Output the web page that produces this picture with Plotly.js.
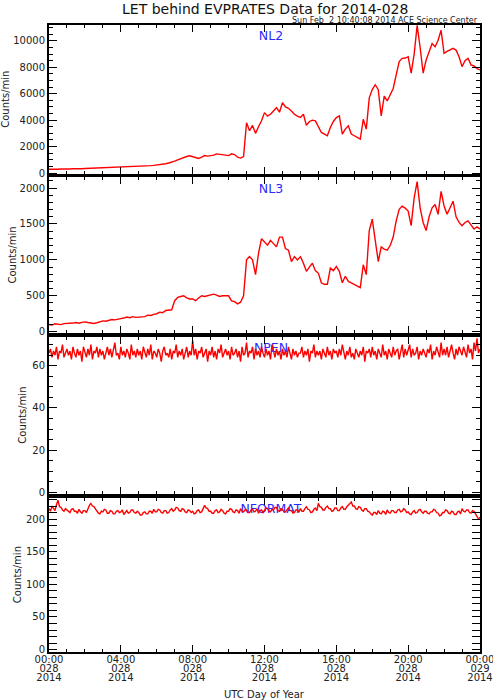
<!DOCTYPE html>
<html>
<head>
<meta charset="utf-8">
<script src="https://cdn.plot.ly/plotly-3.0.1.min.js"></script>
<style>html,body{margin:0;padding:0;background:#fff;}#chart{width:493px;height:700px;}</style>
</head>
<body>
<div id="chart"></div>
<script>
// NL2 / NL3: 10-minute samples; NPEN / NFORMAT: 5-minute samples; 00:00 day 028 -> 00:00 day 029
var nl2 = [
 280,270,290,280,300,290,
 310,300,320,310,330,320,
 340,350,330,360,370,360,
 380,390,400,390,410,420,
 430,440,430,460,470,460,
 500,510,530,540,560,580,
 600,620,650,700,760,820,
 900,1000,1100,1150,1250,1300,
 1220,1150,1100,1200,1320,1280,
 1300,1350,1450,1400,1380,1350,
 1320,1450,1400,1200,1130,1250,
 3800,3200,3600,3000,3500,3950,
 4570,4300,4450,4700,4940,4600,
 5320,5000,4900,4700,4450,4300,
 4200,4450,3600,3900,4000,3950,
 3500,3070,2950,2820,3450,3900,
 4200,4320,2950,3320,3570,2950,
 2820,2700,2570,4070,3320,5690,
 6310,6680,6310,4320,5820,5450,
 5900,6400,7430,8430,8680,8700,
 8800,7560,9000,11170,9500,7560,
 8550,9200,9800,9550,10050,10800,
 9050,9200,9300,9430,9300,8800,
 8050,8500,8680,8180,8100,7900,
 7800];

var nl3 = [
 100,92,110,104,98,112,
 114,108,120,128,118,130,
 136,128,120,114,125,140,
 150,145,160,170,165,178,
 182,190,204,195,210,200,
 204,215,210,230,225,241,
 250,272,265,295,300,305,
 432,477,490,500,470,455,
 455,432,470,500,490,500,
 505,523,510,490,500,495,
 500,430,418,387,410,500,
 1000,1045,1000,795,1090,1294,
 1250,1204,1272,1230,1181,1317,
 1317,1158,1135,977,1045,1000,
 1045,954,840,900,954,850,
 813,681,660,660,885,850,
 908,840,681,772,700,681,
 660,640,613,931,795,1408,
 1566,1272,977,1181,1150,1135,
 1200,1317,1544,1703,1748,1720,
 1680,1476,1862,2089,1725,1521,
 1408,1600,1725,1771,1634,1953,
 1750,1634,1725,1817,1600,1521,
 1476,1520,1544,1480,1430,1460,
 1430];

var npen = [
 66,68,64,67,65,69,63,67,66,70,64,66,
 68,65,67,63,69,66,64,68,65,67,62,69,
 66,64,68,65,70,63,67,66,69,64,68,65,
 67,63,66,69,65,68,64,67,71,65,66,63,
 69,65,67,64,68,66,63,70,65,67,64,68,
 65,67,63,69,66,64,68,65,70,63,67,66,
 64,68,66,62,67,69,65,66,64,68,63,67,
 66,70,64,67,65,68,63,66,69,64,67,65,
 72,65,68,63,67,66,69,64,66,68,62,67,
 65,69,64,67,63,68,66,70,64,66,68,65,
 67,63,69,65,66,68,64,67,62,69,65,66,
 71,64,67,66,69,63,68,65,67,64,69,66,
 64,68,65,67,63,70,66,64,68,65,67,63,
 68,65,67,64,69,66,63,68,65,67,64,66,
 66,69,64,67,65,68,62,67,66,70,64,67,
 65,67,63,68,66,64,69,65,67,63,68,66,
 67,64,68,65,70,66,63,67,65,69,64,66,
 63,68,66,64,67,65,69,62,67,66,68,64,
 69,65,67,63,68,66,64,70,65,67,63,68,
 66,64,69,65,67,68,63,66,70,64,68,65,
 67,70,64,68,65,66,69,63,67,65,68,66,
 64,68,66,70,63,67,65,69,66,64,71,65,
 68,65,69,64,67,70,66,63,68,65,69,67,
 65,69,67,64,70,66,68,63,71,67,73,66,
 68];

var nformat = [
 216,212,220,217,213,222,229,219,218,214,212,216,
 214,211,210,215,216,212,212,209,215,211,209,213,
 213,210,217,221,224,220,219,215,212,209,208,212,
 211,215,214,209,209,213,212,208,208,212,213,210,
 211,214,207,211,213,209,210,214,214,210,209,212,
 210,206,206,210,211,208,208,212,212,209,215,211,
 211,215,214,210,209,213,213,209,210,214,216,212,
 214,218,217,213,212,216,215,211,210,214,213,210,
 212,208,209,213,214,210,211,216,221,217,216,212,
 212,209,209,213,214,210,211,215,213,209,208,212,
 212,216,215,211,210,214,213,209,216,212,211,214,
 214,210,210,214,215,211,212,216,209,213,214,210,
 213,217,216,212,211,215,214,218,218,213,212,216,
 215,211,211,215,217,213,213,209,210,214,214,211,
 216,212,212,216,219,215,214,210,211,215,217,213,
 224,219,218,214,214,218,220,216,216,212,213,217,
 217,213,213,217,219,215,215,219,221,224,226,220,
 220,216,215,219,218,214,212,216,216,212,211,208,
 206,210,210,207,213,209,208,212,211,207,214,210,
 209,213,213,210,210,214,215,211,212,216,214,210,
 211,208,207,211,213,209,210,214,215,211,209,212,
 212,209,208,211,211,215,214,210,209,205,206,210,
 210,214,213,209,208,212,211,207,207,211,212,208,
 216,212,211,214,214,210,209,213,212,208,204,200,
 203];

var panelNames = ["NL2", "NL3", "NPEN", "NFORMAT"];
var xTickHours = [0, 4, 8, 12, 16, 20, 24];
var xTickTime = ["00:00", "04:00", "08:00", "12:00", "16:00", "20:00", "00:00"];
var xTickDay  = ["028", "028", "028", "028", "028", "028", "029"];
var xTickYear = ["2014", "2014", "2014", "2014", "2014", "2014", "2014"];
var yTicks1 = [0, 2000, 4000, 6000, 8000, 10000];
var yTicks2 = [0, 500, 1000, 1500, 2000];
var yTicks3 = [0, 20, 40, 60];
var yTicks4 = [0, 50, 100, 150, 200];

function timeGrid(arr, minutes) { return arr.map(function (_, i) { return i * minutes / 60; }); }
var hours10 = timeGrid(nl2, 10);
var hours5 = timeGrid(npen, 5);

var series = [nl2, nl3, npen, nformat];
var seriesX = [hours10, hours10, hours5, hours5];
var yTicks = [yTicks1, yTicks2, yTicks3, yTicks4];
var yRanges = [[-110, 11200], [-25, 2147], [-0.8, 73.5], [-3.7, 231.8]];
var yMinor = [500, 100, 5, 10];
var domains = [[0.7616, 1], [0.5080, 0.7568], [0.2520, 0.5019], [0, 0.2451]];
var yTitleShift = [-43, -37, -26, -32];

var tfont = "DejaVu Sans, sans-serif";
var traces = [];
var layout = {
  width: 493, height: 700,
  margin: {l: 49, r: 13, t: 25, b: 48, pad: 0},
  paper_bgcolor: "#fff", plot_bgcolor: "#fff",
  showlegend: false,
  font: {family: tfont, size: 10, color: "#222"},
  annotations: [
    {text: "LET behind EVPRATES Data for 2014-028", xref: "paper", yref: "paper",
     x: 0.5, y: 1, xanchor: "center", yanchor: "middle", yshift: 16,
     showarrow: false, font: {family: tfont, size: 14, color: "#111"}},
    {text: "Sun Feb\u00a0\u00a02 10:40:08 2014 ACE Science Center", xref: "paper", yref: "paper",
     x: 1, y: 1, xanchor: "right", yanchor: "middle", yshift: 5, showarrow: false,
     font: {family: tfont, size: 8, color: "#222"}},
    {text: "UTC Day of Year", xref: "paper", yref: "paper", x: 0.5, y: 0, yshift: -42,
     xanchor: "center", yanchor: "middle", showarrow: false,
     font: {family: tfont, size: 10, color: "#222"}}
  ],
  shapes: []
};

for (var k = 0; k < 4; k++) {
  var sx = k === 0 ? "" : String(k + 1);
  traces.push({
    x: seriesX[k], y: series[k], type: "scatter", mode: "lines",
    xaxis: "x" + sx, yaxis: "y" + sx,
    line: {color: "#ff0000", width: 1.4}, hoverinfo: "skip"
  });
  layout["xaxis" + sx] = {
    domain: [0, 1], anchor: "y" + sx, range: [0, 24],
    tickmode: "array", tickvals: xTickHours, ticktext: xTickTime,
    showticklabels: false,
    ticks: "inside", ticklen: 7, tickwidth: 1, tickcolor: "#000",
    minor: {dtick: 1, tick0: 0, ticks: "inside", ticklen: 3, tickwidth: 1, tickcolor: "#000"},
    showline: true, linewidth: 2, linecolor: "#000", mirror: "allticks",
    showgrid: false, zeroline: false
  };
  layout["yaxis" + sx] = {
    domain: domains[k], anchor: "x" + sx, range: yRanges[k],
    tickmode: "array", tickvals: yTicks[k], ticktext: yTicks[k].map(String),
    ticks: "inside", ticklen: 8, tickwidth: 1, tickcolor: "#000",
    minor: {dtick: yMinor[k], tick0: 0, ticks: "inside", ticklen: 4, tickwidth: 1, tickcolor: "#000"},
    showline: true, linewidth: 2, linecolor: "#000", mirror: "allticks",
    showgrid: false, zeroline: false,
    tickfont: {family: tfont, size: 10, color: "#222"}
  };
  layout.annotations.push({
    text: "Counts/min", xref: "paper", yref: "paper", x: 0, xshift: yTitleShift[k],
    y: (domains[k][0] + domains[k][1]) / 2, xanchor: "center", yanchor: "middle",
    textangle: -90, showarrow: false, font: {family: tfont, size: 10, color: "#222"}
  });
  layout.shapes.push({
    type: "rect", xref: "paper", yref: "paper", layer: "below",
    x0: 0.43, x1: 0.6, y0: domains[k][1] - 0.028, y1: domains[k][1] - 0.004,
    line: {width: 0}, fillcolor: "rgba(0,0,0,0)",
    label: {text: panelNames[k], textposition: "middle center",
            font: {family: tfont, size: 12.5, color: "#2a2aff"}}
  });
}

// three label rows (time, day of year, year) under the bottom panel
var rows = [[xTickTime, 0], [xTickDay, 9], [xTickYear, 18]];
for (var r = 0; r < rows.length; r++) {
  var n = 5 + r;
  traces.push({x: [], y: [], type: "scatter", mode: "lines", xaxis: "x" + n, yaxis: "y4", hoverinfo: "skip"});
  layout["xaxis" + n] = {
    domain: [0, 1], anchor: "y4", overlaying: "x4", range: [0, 24],
    tickmode: "array", tickvals: xTickHours, ticktext: rows[r][0],
    ticks: "", showline: false, showgrid: false, zeroline: false,
    ticklabelstandoff: rows[r][1], ticklabeloverflow: "allow",
    tickfont: {family: tfont, size: 10, color: "#222"}
  };
}

Plotly.newPlot("chart", traces, layout, {displayModeBar: false, staticPlot: true});
</script>
</body>
</html>
